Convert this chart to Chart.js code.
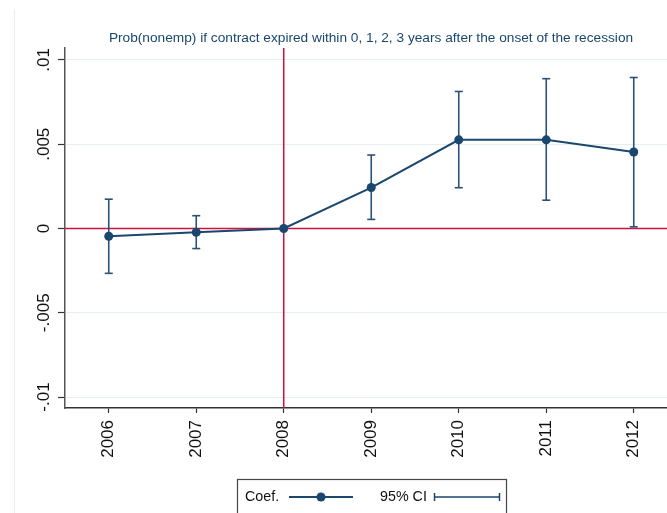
<!DOCTYPE html>
<html>
<head>
<meta charset="utf-8">
<script src="https://cdn.jsdelivr.net/npm/chart.js@4"></script>
<style>
  html, body { margin: 0; padding: 0; background: #fff; }
  #wrap { position: relative; width: 667px; height: 513px; overflow: hidden; }
  #edge { position: absolute; left: 14px; top: 9px; height: 504px; border-left: 1px solid #ececec; }
  canvas { display: block; }
</style>
</head>
<body>
<div id="wrap">
  <div id="edge"></div>
  <canvas id="coefChart" width="667" height="513"></canvas>
</div>
<script>
const years = [2006, 2007, 2008, 2009, 2010, 2011, 2012];
const coef = [-0.00046, -0.00022, 0, 0.00243, 0.00526, 0.00526, 0.00454];
const ciLow = [-0.00266, -0.00119, null, 0.00054, 0.00242, 0.00168, 0.0001];
const ciHigh = [0.00174, 0.00076, null, 0.00436, 0.00813, 0.00889, 0.00896];
const yTicks = [-0.01, -0.005, 0, 0.005, 0.01];
const yTickLabels = ['-.01', '-.005', '0', '.005', '.01'];
const recessionYear = 2008;
const titleText = 'Prob(nonemp) if contract expired within 0, 1, 2, 3 years after the onset of the recession';

const navy = '#1a476f';
const refRed = '#d0103f';
const narrow = '"Liberation Sans Narrow", "Arial Narrow", "Liberation Sans", Arial, sans-serif';
const regular = '"Liberation Sans", Arial, sans-serif';

// points of the coefficient line
const coefData = years.map((yr, i) => ({ x: yr, y: coef[i] }));

// each CI is its own segment, separated by a null point
const ciData = [];
years.forEach((yr, i) => {
  if (ciLow[i] === null) return;
  ciData.push({ x: yr, y: ciLow[i] });
  ciData.push({ x: yr, y: ciHigh[i] });
  ciData.push({ x: yr, y: null });
});

// red reference lines at 0 and at the recession year
const refLines = {
  id: 'refLines',
  beforeDatasetsDraw(chart) {
    const { ctx, chartArea, scales } = chart;
    const y0 = scales.y.getPixelForValue(0);
    const xr = scales.x.getPixelForValue(recessionYear);
    ctx.save();
    ctx.strokeStyle = refRed;
    ctx.lineWidth = 1.5;
    ctx.beginPath();
    ctx.moveTo(chartArea.left, y0);
    ctx.lineTo(chartArea.right, y0);
    ctx.moveTo(xr, chartArea.top);
    ctx.lineTo(xr, chartArea.bottom);
    ctx.stroke();
    ctx.restore();
  }
};

// rotated y labels, title and the boxed legend
const extras = {
  id: 'extras',
  afterDraw(chart) {
    const { ctx, scales } = chart;
    ctx.save();

    ctx.fillStyle = '#111';
    ctx.font = '17px ' + regular;
    ctx.textAlign = 'center';
    ctx.textBaseline = 'middle';
    yTicks.forEach((v, i) => {
      const py = scales.y.getPixelForValue(v);
      ctx.save();
      ctx.translate(44, py);
      ctx.rotate(-Math.PI / 2);
      ctx.fillText(yTickLabels[i], 0, 0);
      ctx.restore();
    });

    ctx.fillStyle = navy;
    ctx.font = '13.7px ' + narrow;
    ctx.fillText(titleText, 371, 38);

    // legend
    ctx.strokeStyle = '#444';
    ctx.lineWidth = 1.2;
    ctx.strokeRect(237.5, 479.5, 269, 50);
    ctx.fillStyle = '#111';
    ctx.font = '14.3px ' + narrow;
    ctx.textAlign = 'left';
    ctx.fillText('Coef.', 245, 497);
    ctx.fillText('95% CI', 380, 497);

    ctx.strokeStyle = navy;
    ctx.lineWidth = 2;
    ctx.beginPath();
    ctx.moveTo(289, 497);
    ctx.lineTo(353, 497);
    ctx.stroke();
    ctx.fillStyle = navy;
    ctx.beginPath();
    ctx.arc(321, 497, 4.5, 0, Math.PI * 2);
    ctx.fill();

    ctx.lineWidth = 1.5;
    ctx.beginPath();
    ctx.moveTo(434, 497);
    ctx.lineTo(500, 497);
    ctx.moveTo(434.5, 493);
    ctx.lineTo(434.5, 501);
    ctx.moveTo(499.5, 493);
    ctx.lineTo(499.5, 501);
    ctx.stroke();

    ctx.restore();
  }
};

new Chart(document.getElementById('coefChart'), {
  type: 'line',
  data: {
    datasets: [
      {
        label: 'Coef.',
        data: coefData,
        borderColor: navy,
        backgroundColor: navy,
        borderWidth: 2,
        pointRadius: 4.5,
        pointBackgroundColor: navy,
        pointBorderWidth: 0,
        tension: 0
      },
      {
        label: '95% CI',
        data: ciData,
        borderColor: '#2a5278',
        borderWidth: 1.6,
        pointStyle: 'line',
        pointRadius: 4,
        pointBorderColor: '#2a5278',
        pointBorderWidth: 1.6,
        spanGaps: false,
        tension: 0
      }
    ]
  },
  options: {
    responsive: false,
    animation: false,
    events: [],
    layout: { autoPadding: false, padding: { top: 48, left: 0, right: 0, bottom: 0 } },
    plugins: {
      legend: { display: false },
      title: { display: false },
      tooltip: { enabled: false }
    },
    scales: {
      x: {
        type: 'linear',
        min: 2005.5,
        max: 2012.38,
        afterBuildTicks: (scale) => { scale.ticks = years.map(v => ({ value: v })); },
        afterFit: (scale) => {
          scale.height = 105;
          scale.paddingLeft = 0;
          scale.paddingRight = 0;
        },
        grid: { drawOnChartArea: false, tickLength: 5, tickColor: '#333', tickWidth: 1.2 },
        border: { color: '#333', width: 1.5 },
        ticks: {
          autoSkip: false,
          minRotation: 90,
          maxRotation: 90,
          padding: 7,
          color: '#111',
          font: { family: regular, size: 17 },
          callback: (v) => String(v)
        }
      },
      y: {
        min: -0.01065,
        max: 0.01071,
        afterBuildTicks: (scale) => { scale.ticks = yTicks.map(v => ({ value: v })); },
        afterFit: (scale) => {
          scale.width = 65;
          scale.paddingTop = 0;
          scale.paddingBottom = 0;
        },
        grid: { color: '#e6eef1', lineWidth: 1, tickLength: 7, tickColor: '#333', tickWidth: 1.2 },
        border: { color: '#555', width: 1.5 },
        ticks: { display: false }
      }
    }
  },
  plugins: [refLines, extras]
});
</script>
</body>
</html>
